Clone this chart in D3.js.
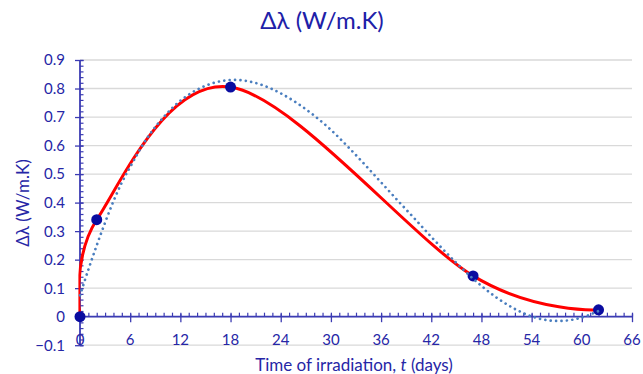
<!DOCTYPE html>
<html>
<head>
<meta charset="utf-8">
<script src="https://cdn.jsdelivr.net/npm/d3@7"></script>
<style>
  html, body { margin: 0; padding: 0; background: #ffffff; }
  svg { display: block; }
  text { font-family: Lato, "Open Sans", sans-serif; }
</style>
</head>
<body>
<svg id="chart" width="643" height="374"></svg>
<script>
// ---- data ----
const days = [0, 2, 18, 47, 62];
const deltaLambda = [0, 0.34, 0.805, 0.143, 0.024];

// polynomial trendline
const trendDays = [0, 1, 2, 3, 4, 5, 6, 8, 10, 12, 14, 16, 18, 20, 22, 24, 26, 28, 30, 32, 34, 36, 38, 40, 42, 44, 46, 48, 50, 52, 54, 56, 58, 60, 62];
const trendValues = [0.075, 0.165, 0.25, 0.33, 0.405, 0.47, 0.525, 0.625, 0.70, 0.757, 0.796, 0.82, 0.83, 0.826, 0.81, 0.783, 0.748, 0.705, 0.655, 0.597, 0.535, 0.471, 0.407, 0.344, 0.28, 0.218, 0.16, 0.108, 0.063, 0.027, 0.001, -0.013, -0.014, -0.003, 0.02];

const xTicks = [0, 6, 12, 18, 24, 30, 36, 42, 48, 54, 60, 66];
const yTicks = [-0.1, 0, 0.1, 0.2, 0.3, 0.4, 0.5, 0.6, 0.7, 0.8, 0.9];

const titleText = "\u0394\u03bb (W/m.K)";
const yTitleText = "\u0394\u03bb (W/m.K)";

// ---- layout ----
const svg = d3.select("#chart");
const plotLeft = 80, plotRight = 632, plotTop = 60, plotBottom = 345.2;
const x = d3.scaleLinear().domain([0, 66]).range([plotLeft, plotRight]);
const y = d3.scaleLinear().domain([-0.1, 0.9]).range([plotBottom, plotTop]);

const axisColor = "#3b3bb3";
const textColor = "#2626a6";

svg.append("defs").append("clipPath").attr("id", "plotClip")
  .append("rect").attr("x", plotLeft - 1.6).attr("y", plotTop - 5)
  .attr("width", plotRight - plotLeft + 1.6).attr("height", plotBottom - plotTop + 5);

// gridlines
svg.append("g").selectAll("line").data(yTicks).join("line")
  .attr("x1", plotLeft).attr("x2", plotRight)
  .attr("y1", d => y(d)).attr("y2", d => y(d))
  .attr("stroke", "#d9d9d9").attr("stroke-width", 1.3);

// y axis (major ticks crossing, minor inside)
const yAxisG = svg.append("g").attr("transform", `translate(${plotLeft},0)`);
yAxisG.call(d3.axisLeft(y).tickValues(d3.range(-0.1, 0.9001, 0.02)).tickSize(-3.5).tickFormat(""))
  .call(g => g.select(".domain").remove())
  .call(g => g.selectAll("line").attr("stroke", axisColor).attr("stroke-width", 1.2));
yAxisG.append("g").call(d3.axisLeft(y).tickValues(yTicks).tickSize(5).tickFormat(""))
  .call(g => g.select(".domain").remove())
  .call(g => g.selectAll("line").attr("stroke", axisColor).attr("stroke-width", 1.3).attr("x2", -5).attr("x1", 3.5));
yAxisG.append("line").attr("x1", 0).attr("x2", 0).attr("y1", y(0.9)).attr("y2", y(-0.1))
  .attr("stroke", axisColor).attr("stroke-width", 1.8);
svg.append("g").selectAll("text").data(yTicks).join("text")
  .attr("x", 65).attr("y", d => y(d)).attr("dy", "0.36em")
  .attr("text-anchor", "end").attr("fill", textColor).attr("font-size", 15)
  .text(d => d3.format("")(+d.toFixed(1)));

// x axis at y = 0
const xAxisG = svg.append("g").attr("transform", `translate(0,${y(0)})`);
xAxisG.call(d3.axisTop(x).tickValues(d3.range(0, 67, 1)).tickSize(4).tickFormat(""))
  .call(g => g.select(".domain").remove())
  .call(g => g.selectAll("line").attr("stroke", axisColor).attr("stroke-width", 1.2));
xAxisG.append("g").call(d3.axisBottom(x).tickValues(xTicks).tickSize(5.5).tickFormat(""))
  .call(g => g.select(".domain").remove())
  .call(g => g.selectAll("line").attr("stroke", axisColor).attr("stroke-width", 1.3).attr("y1", -3));
xAxisG.append("line").attr("x1", plotLeft).attr("x2", plotRight).attr("y1", 0).attr("y2", 0)
  .attr("stroke", axisColor).attr("stroke-width", 1.8);
svg.append("g").selectAll("text").data(xTicks).join("text")
  .attr("x", d => x(d)).attr("y", 344.5)
  .attr("text-anchor", "middle").attr("fill", textColor).attr("font-size", 15)
  .text(d => d);

// series line (smoothed), clipped to the plot area
const pts = days.map((d, i) => [d, deltaLambda[i]]);
svg.append("path").datum(pts)
  .attr("clip-path", "url(#plotClip)")
  .attr("fill", "none").attr("stroke", "#ff0000").attr("stroke-width", 3)
  .attr("stroke-linejoin", "round")
  .attr("d", d3.line().x(d => x(d[0])).y(d => y(d[1])).curve(d3.curveCardinal.tension(0)));

// markers
svg.append("g").selectAll("circle").data(pts).join("circle")
  .attr("cx", d => x(d[0])).attr("cy", d => y(d[1])).attr("r", 5.5)
  .attr("fill", "#0a0ca0");

// trendline (dotted)
const tpts = trendDays.map((d, i) => [d, trendValues[i]]);
svg.append("path").datum(tpts)
  .attr("clip-path", "url(#plotClip)")
  .attr("fill", "none").attr("stroke", "#4a7ebf").attr("stroke-width", 2.7)
  .attr("stroke-linecap", "round").attr("stroke-dasharray", "0.01 5.4")
  .attr("d", d3.line().x(d => x(d[0])).y(d => y(d[1])).curve(d3.curveCatmullRom));

// titles
svg.append("text").attr("x", 322).attr("y", 29).attr("text-anchor", "middle")
  .attr("fill", "#2020a8").attr("font-size", 24).text(titleText);

svg.append("text").attr("transform", `translate(29,203) rotate(-90)`)
  .attr("text-anchor", "middle").attr("fill", textColor).attr("font-size", 17)
  .text(yTitleText);

const xt = svg.append("text").attr("x", 354).attr("y", 371).attr("text-anchor", "middle")
  .attr("fill", textColor).attr("font-size", 17);
xt.append("tspan").text("Time of irradiation, ");
xt.append("tspan").attr("font-style", "italic").text("t");
xt.append("tspan").text(" (days)");
</script>
</body>
</html>
